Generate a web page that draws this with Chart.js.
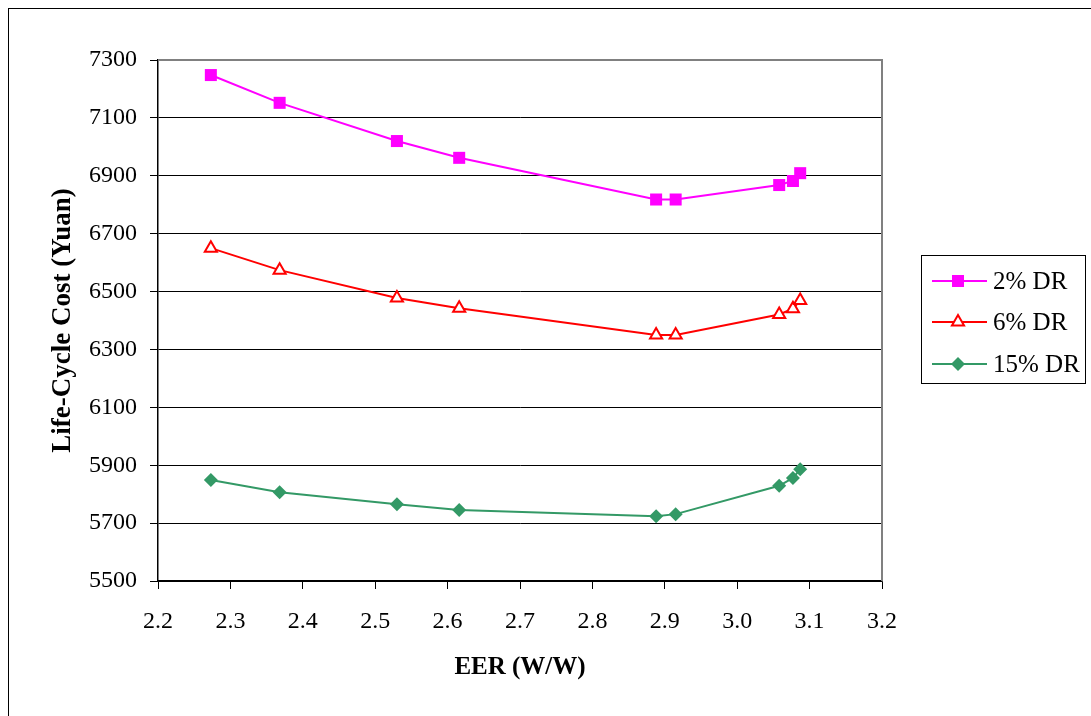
<!DOCTYPE html>
<html>
<head>
<meta charset="utf-8">
<script src="https://cdn.jsdelivr.net/npm/chart.js@4/dist/chart.umd.min.js"></script>
<style>
  html, body { margin: 0; padding: 0; background: #fff; overflow: hidden; }
  #wrap { position: relative; width: 1091px; height: 716px; }
  #frame { position: absolute; left: 8px; top: 8px; width: 1200px; height: 800px; border: 1.5px solid #000; box-sizing: border-box; }
  canvas { position: absolute; left: 0; top: 0; }
</style>
</head>
<body>
<div id="wrap">
  <div id="frame"></div>
  <canvas id="c" width="1091" height="716"></canvas>
</div>
<script>
const eer = [2.273, 2.368, 2.530, 2.616, 2.888, 2.915, 3.058, 3.077, 3.087];
const dr2 = [7248, 7152, 7020, 6962, 6818, 6818, 6868, 6882, 6909];
const dr6 = [6650, 6574, 6478, 6442, 6350, 6350, 6421, 6441, 6469];
const dr15 = [5849, 5807, 5765, 5745, 5724, 5731, 5829, 5856, 5886];
const seriesNames = ['2% DR', '6% DR', '15% DR'];
const xTitle = 'EER (W/W)';
const yTitle = 'Life-Cycle Cost (Yuan)';

const pts = (ys) => eer.map((x, i) => ({ x: x, y: ys[i] }));
const FONT = "'Liberation Serif', 'Times New Roman', serif";

const legendPlugin = {
  id: 'customLegend',
  afterDraw(chart) {
    const ctx = chart.ctx;
    const ca = chart.chartArea;
    ctx.save();
    ctx.strokeStyle = '#808080';
    ctx.lineWidth = 2;
    ctx.beginPath();
    ctx.moveTo(ca.left, ca.top);
    ctx.lineTo(ca.right, ca.top);
    ctx.lineTo(ca.right, ca.bottom);
    ctx.stroke();
    const bx = 921, by = 255, bw = 164, bh = 128;
    ctx.strokeStyle = '#000';
    ctx.lineWidth = 1;
    ctx.strokeRect(bx + 0.5, by + 0.5, bw, bh);
    const rows = [281, 322, 364];
    chart.data.datasets.forEach((ds, i) => {
      const y = rows[i];
      ctx.strokeStyle = ds.borderColor;
      ctx.lineWidth = ds.borderWidth;
      ctx.beginPath();
      ctx.moveTo(932, y);
      ctx.lineTo(987, y);
      ctx.stroke();
      ctx.fillStyle = ds.pointBackgroundColor;
      ctx.strokeStyle = ds.pointBorderColor;
      ctx.lineWidth = ds.pointBorderWidth;
      Chart.helpers.drawPoint(ctx, { pointStyle: ds.pointStyle, radius: ds.pointRadius, borderWidth: ds.pointBorderWidth, rotation: 0 }, 958, y);
      ctx.fillStyle = '#000';
      ctx.font = '25px ' + FONT;
      ctx.textBaseline = 'middle';
      ctx.textAlign = 'left';
      ctx.fillText(ds.label, 993, y + 1);
    });
    ctx.restore();
  }
};

new Chart(document.getElementById('c'), {
  type: 'line',
  data: {
    datasets: [
      { label: seriesNames[0], data: pts(dr2), borderColor: '#FF00FF', backgroundColor: '#FF00FF', borderWidth: 2,
        pointStyle: 'rect', pointRadius: 8.5, pointBackgroundColor: '#FF00FF', pointBorderColor: '#FF00FF', pointBorderWidth: 0 },
      { label: seriesNames[1], data: pts(dr6), borderColor: '#FF0000', backgroundColor: '#FF0000', borderWidth: 2,
        pointStyle: 'triangle', pointRadius: 7, pointBackgroundColor: '#FFFFFF', pointBorderColor: '#FF0000', pointBorderWidth: 2 },
      { label: seriesNames[2], data: pts(dr15), borderColor: '#339966', backgroundColor: '#339966', borderWidth: 2,
        pointStyle: 'rectRot', pointRadius: 7, pointBackgroundColor: '#339966', pointBorderColor: '#339966', pointBorderWidth: 0 }
    ]
  },
  options: {
    responsive: false,
    animation: false,
    layout: { padding: { top: 60, right: 209, left: 0, bottom: 0 } },
    plugins: { legend: { display: false }, tooltip: { enabled: false } },
    scales: {
      x: {
        type: 'linear', min: 2.2, max: 3.2,
        afterFit(s) { s.height = 135; },
        ticks: { stepSize: 0.1, color: '#000', padding: 18, font: { family: FONT, size: 24 },
                 callback: (v) => Number(v).toFixed(1) },
        grid: { drawOnChartArea: false, drawTicks: true, tickLength: 8, color: '#000', lineWidth: 1 },
        border: { color: '#000', width: 1.5 },
        title: { display: true, text: xTitle, color: '#000', font: { family: FONT, size: 25, weight: 'bold' }, padding: { top: 0, bottom: 33 } }
      },
      y: {
        type: 'linear', min: 5500, max: 7300,
        afterFit(s) { s.width = 158; },
        ticks: { stepSize: 200, color: '#000', padding: 13, font: { family: FONT, size: 24 },
                 callback: (v) => String(v) },
        grid: { drawOnChartArea: true, drawTicks: true, tickLength: 8, color: '#000', lineWidth: 1 },
        border: { color: '#000', width: 1.5 },
        title: { display: true, text: yTitle, color: '#000', font: { family: FONT, size: 27, weight: 'bold' }, padding: { top: 47, bottom: 0 } }
      }
    }
  },
  plugins: [legendPlugin]
});
</script>
</body>
</html>
